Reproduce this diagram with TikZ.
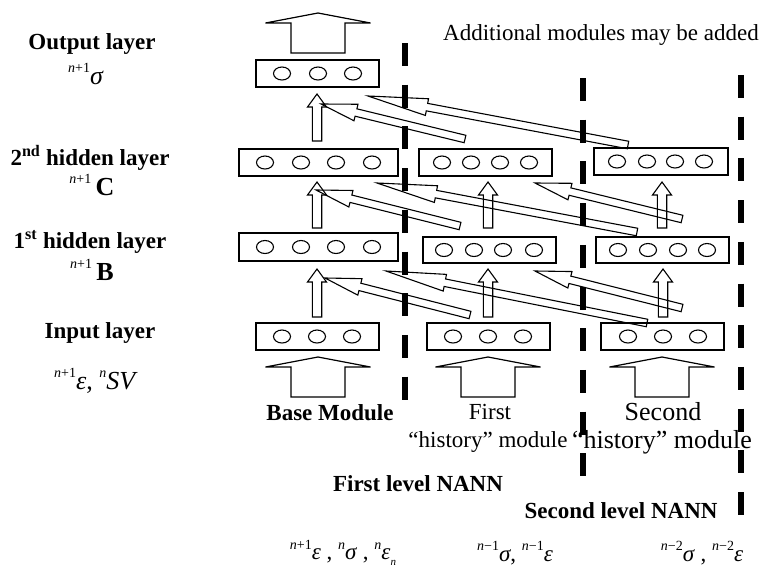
\documentclass[tikz,border=0pt]{standalone}
\usepackage{fontspec}
\setmainfont{Liberation Serif}
\usetikzlibrary{calc}

\newcommand{\presup}[1]{\raisebox{0.45em}{\fontsize{14}{14}\selectfont #1}}
\newcommand{\presub}[1]{\raisebox{-0.25em}{\fontsize{11}{11}\selectfont #1}}
% block arrow: [style] id, tail, tip, head length, half shaft width, half head width
\newcommand{\blkarrow}[7][arrowline]{%
  \coordinate (#2h) at ($(#4)!#5!(#3)$);
  \draw[#1] ($(#3)!#6!90:(#4)$) -- ($(#2h)!#6!90:(#4)$) -- ($(#2h)!#7!90:(#4)$) -- (#4)
     -- ($(#2h)!#7!-90:(#4)$) -- ($(#2h)!#6!-90:(#4)$) -- ($(#3)!#6!-90:(#4)$) -- cycle;}
\newcommand{\ovals}[2]{\foreach \cx in {#2} {\draw[line width=1.1pt] (\cx,#1) ellipse [x radius=8.5pt, y radius=6.5pt];}}

\begin{document}
\begin{tikzpicture}[x=1pt,y=-1pt,
  box/.style={draw, line width=1.3pt, minimum height=27pt, inner sep=0pt},
  arrowline/.style={line width=1.1pt, line join=miter},
  bigarrow/.style={line width=1.2pt, line join=miter},
  sep/.style={line width=6.5pt, dash pattern=on 23pt off 18.7pt},
  lbl/.style={font=\fontsize{23}{26}\selectfont\bfseries, inner sep=0pt},
  txt/.style={font=\fontsize{23}{26}\selectfont, inner sep=0pt},
  txtb/.style={font=\fontsize{26}{29}\selectfont, inner sep=0pt}]
\useasboundingbox (0,0) rectangle (765,573);

% ---- left column labels
\node[lbl] (lout) at (92,44) {Output layer};
\node[txtb] (fout) at (86,74) {\presup{\textit{n}+1}\textit{σ}};
\node[lbl] (lh2) at (90,158) {2\textsuperscript{nd} hidden layer};
\node[txtb] (fh2) at (92,185) {\presup{\textit{n}+1}\,\textbf{C}};
\node[lbl] (lh1) at (90,242) {1\textsuperscript{st} hidden layer};
\node[txtb] (fh1) at (92,270) {\presup{\textit{n}+1}\,\textbf{B}};
\node[lbl] (lin) at (100,333) {Input layer};
\node[txtb] (fin) at (96,381) {\presup{\textit{n}+1}\textit{ε}, \presup{\textit{n}}\textit{SV}};

% ---- boxes
\node[box, minimum width=123pt] (out) at (317.5,73.5) {};
\node[box, minimum width=159pt] (b2) at (318.5,162.5) {};
\node[box, minimum width=133pt] (f2) at (485.5,162.5) {};
\node[box, minimum width=134pt] (s2) at (661,161.5) {};
\node[box, minimum width=159pt, minimum height=28pt] (b1) at (318.5,247) {};
\node[box, minimum width=133pt, minimum height=26pt] (f1) at (489.5,250) {};
\node[box, minimum width=133pt, minimum height=26pt] (s1) at (662.5,250) {};
\node[box, minimum width=123pt] (bi) at (317.5,336.5) {};
\node[box, minimum width=123pt] (fi) at (488.5,336.5) {};
\node[box, minimum width=123pt] (si) at (662.5,336.5) {};

\ovals{73.5}{282,318,353}
\ovals{162.5}{265,301,336,372}
\ovals{162.5}{442,471,500,529}
\ovals{161.5}{617,647,675,704}
\ovals{247}{265,301,336,372}
\ovals{250}{444,474,503,534}
\ovals{250}{618,648,678,707}
\ovals{336.5}{282,317,352}
\ovals{336.5}{453,488,523}
\ovals{336.5}{628,663,698}

% ---- dashed separators
\draw[sep] (405,43) -- (405,401);
\draw[sep] (583,78) -- (583,477);
\draw[sep] (741,75) -- (741,516);

% ---- big input / output arrows
\coordinate (ot) at (318,53);  \coordinate (oh) at (318,13);
\coordinate (bt) at (318,397); \coordinate (bh) at (318,357);
\coordinate (ft) at (488,397); \coordinate (fh) at (488,357);
\coordinate (st) at (662,397); \coordinate (sh) at (662,357);
\blkarrow[bigarrow]{O}{ot}{oh}{10pt}{27pt}{52.5pt}
\blkarrow[bigarrow]{BI}{bt}{bh}{10pt}{27pt}{52.5pt}
\blkarrow[bigarrow]{FI}{ft}{fh}{10pt}{27pt}{52.5pt}
\blkarrow[bigarrow]{SI}{st}{sh}{10pt}{27pt}{52.5pt}

% ---- vertical arrows between layers
\coordinate (v1t) at (317,141); \coordinate (v1h) at (317,94);
\coordinate (v2t) at (317,228); \coordinate (v2h) at (317,182);
\coordinate (v3t) at (317,317); \coordinate (v3h) at (317,269);
\coordinate (v4t) at (488,228); \coordinate (v4h) at (488,182);
\coordinate (v5t) at (488,317); \coordinate (v5h) at (488,269);
\coordinate (v6t) at (662,228); \coordinate (v6h) at (662,182);
\coordinate (v7t) at (663,317); \coordinate (v7h) at (663,269);
\foreach \i in {1,...,7} {\blkarrow{V\i}{v\i t}{v\i h}{13pt}{4.7pt}{9.5pt}}

% ---- diagonal history arrows
\coordinate (a1t) at (628,145); \coordinate (a1h) at (368,96);
\coordinate (a2t) at (465,139); \coordinate (a2h) at (321,104);
\coordinate (b1t) at (637,232); \coordinate (b1h) at (377,183);
\coordinate (b2t) at (460,226); \coordinate (b2h) at (316,190);
\coordinate (b3t) at (682,219); \coordinate (b3h) at (535,183);
\coordinate (c1t) at (647,323); \coordinate (c1h) at (386,271);
\coordinate (c2t) at (470,315); \coordinate (c2h) at (325,278);
\coordinate (c3t) at (682,308); \coordinate (c3h) at (535,271);
\blkarrow{A1}{a1t}{a1h}{60pt}{3.8pt}{8.5pt}
\blkarrow{A2}{a2t}{a2h}{36pt}{3.8pt}{8.5pt}
\blkarrow{B1}{b1t}{b1h}{60pt}{3.8pt}{8.5pt}
\blkarrow{B2}{b2t}{b2h}{36pt}{3.8pt}{8.5pt}
\blkarrow{B3}{b3t}{b3h}{36pt}{3.8pt}{8.5pt}
\blkarrow{C1}{c1t}{c1h}{60pt}{3.8pt}{8.5pt}
\blkarrow{C2}{c2t}{c2h}{36pt}{3.8pt}{8.5pt}
\blkarrow{C3}{c3t}{c3h}{36pt}{3.8pt}{8.5pt}

% ---- texts
\node[txt] (add) at (601,35) {Additional modules may be added};
\node[lbl] (base) at (330,413) {Base Module};
\node[txt] (first) at (490,412) {First};
\node[txt] (hist1) at (488,442) {“history” module};
\node[txtb] (second) at (663,412) {Second};
\node[txtb] (hist2) at (662,442) {“history” module};
\node[lbl] (lev1) at (418,484) {First level NANN};
\node[lbl] (lev2) at (621,511) {Second level NANN};
\node[txt] (fb1) at (343,553) {\presup{\textit{n}+1}\textit{ε} , \presup{\textit{n}}\textit{σ} , \presup{\textit{n}}\textit{ε}\presub{\textit{n}}};
\node[txt] (fb2) at (515,553) {\presup{\textit{n}−1}\textit{σ}, \presup{\textit{n}−1}\textit{ε}};
\node[txt] (fb3) at (702,553) {\presup{\textit{n}−2}\textit{σ} , \presup{\textit{n}−2}\textit{ε}};
\end{tikzpicture}
\end{document}
